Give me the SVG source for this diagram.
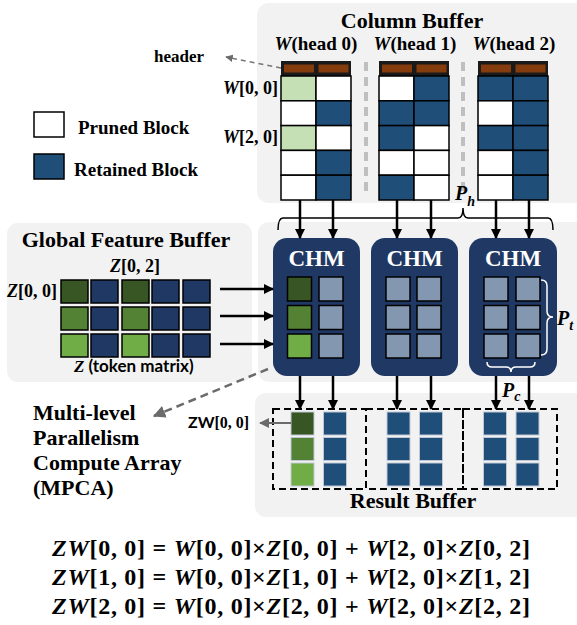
<svg xmlns="http://www.w3.org/2000/svg" width="577" height="625" viewBox="0 0 577 625">
<defs>
<style>
.panel{fill:#F2F2F2}
.t{font-family:"Liberation Serif","Times New Roman",serif;font-weight:bold;fill:#000}
.mi{font-style:italic}
.sans{font-family:Lato,"Liberation Sans",sans-serif;font-weight:bold}
.cell{stroke:#000;stroke-width:1.5}
.wc{fill:#fff}
.bc{fill:#1F4E79}
.gc{fill:#C5E0B4}
.ic{fill:#8497B0;stroke:#000;stroke-width:1.5}
.zc{stroke:#000;stroke-width:1.5}
.rc{stroke:#BFC7D5;stroke-width:1}
.g1{fill:#375623}
.g2{fill:#548235}
.g3{fill:#70AD47}
.db{fill:#203864}
.chm{fill:#203864}
.arr{stroke:#000;stroke-width:2.5;fill:none;marker-end:url(#ah)}
.dbox{fill:none;stroke:#000;stroke-width:2;stroke-dasharray:7 4}
.sep{stroke:#BFBFBF;stroke-width:4;stroke-dasharray:9 6}
</style>
<marker id="ah" viewBox="0 0 10 10" refX="9" refY="5" markerWidth="4" markerHeight="4" orient="auto" markerUnits="strokeWidth">
<path d="M0,0 L10,5 L0,10 z" fill="#000"/>
</marker>
<marker id="ahg" viewBox="0 0 10 10" refX="9" refY="5" markerWidth="5" markerHeight="5" orient="auto" markerUnits="strokeWidth">
<path d="M0,0 L10,5 L0,10 z" fill="#6b6b6b"/>
</marker>
</defs>

<!-- panels -->
<rect class="panel" x="257" y="3" width="330" height="200" rx="12"/>
<rect class="panel" x="7" y="223" width="245" height="159" rx="11"/>
<rect class="panel" x="258" y="222" width="330" height="160" rx="11"/>
<rect class="panel" x="255" y="393" width="330" height="124" rx="11"/>

<!-- legend -->
<g id="legend">
<rect x="34" y="112" width="30" height="25" fill="#fff" stroke="#000" stroke-width="1.5"/>
<text class="t" x="78" y="134" font-size="19">Pruned Block</text>
<rect x="34" y="154" width="30" height="25" fill="#1F4E79" stroke="#000" stroke-width="1.5"/>
<text class="t" x="74" y="176" font-size="19">Retained Block</text>
</g>

<!-- Column buffer -->
<g id="column-buffer">
<text class="t" x="412" y="28" font-size="22" text-anchor="middle">Column Buffer</text>
<text class="t" x="316" y="50" font-size="19" text-anchor="middle"><tspan class="mi">W</tspan>(head 0)</text>
<text class="t" x="415" y="50" font-size="19" text-anchor="middle"><tspan class="mi">W</tspan>(head 1)</text>
<text class="t" x="514" y="50" font-size="19" text-anchor="middle"><tspan class="mi">W</tspan>(head 2)</text>
<text class="t" x="154" y="62" font-size="17">header</text>
<text class="t" x="278" y="94" font-size="18" text-anchor="end"><tspan class="mi">W</tspan>[0, 0]</text>
<text class="t" x="278" y="143" font-size="18" text-anchor="end"><tspan class="mi">W</tspan>[2, 0]</text>
<line class="sep" x1="366" y1="62" x2="366" y2="196"/>
<line class="sep" x1="463" y1="62" x2="463" y2="196"/>
</g>

<g id="head0">
<rect x="281" y="61" width="70" height="15" fill="#1a1a1a"/>
<rect x="284" y="64.5" width="30" height="8" fill="#843C0C"/>
<rect x="318.5" y="64.5" width="30" height="8" fill="#843C0C"/>
<rect class="cell gc" x="281" y="76" width="35" height="24.8"/><rect class="cell wc" x="316" y="76" width="35" height="24.8"/>
<rect class="cell wc" x="281" y="100.8" width="35" height="24.8"/><rect class="cell bc" x="316" y="100.8" width="35" height="24.8"/>
<rect class="cell gc" x="281" y="125.6" width="35" height="24.8"/><rect class="cell wc" x="316" y="125.6" width="35" height="24.8"/>
<rect class="cell wc" x="281" y="150.4" width="35" height="24.8"/><rect class="cell bc" x="316" y="150.4" width="35" height="24.8"/>
<rect class="cell wc" x="281" y="175.2" width="35" height="24.8"/><rect class="cell bc" x="316" y="175.2" width="35" height="24.8"/>
</g>
<g id="head1">
<rect x="379" y="61" width="70" height="15" fill="#1a1a1a"/>
<rect x="382" y="64.5" width="30" height="8" fill="#843C0C"/>
<rect x="416.5" y="64.5" width="30" height="8" fill="#843C0C"/>
<rect class="cell wc" x="379" y="76" width="35" height="24.8"/><rect class="cell bc" x="414" y="76" width="35" height="24.8"/>
<rect class="cell bc" x="379" y="100.8" width="35" height="24.8"/><rect class="cell bc" x="414" y="100.8" width="35" height="24.8"/>
<rect class="cell bc" x="379" y="125.6" width="35" height="24.8"/><rect class="cell wc" x="414" y="125.6" width="35" height="24.8"/>
<rect class="cell wc" x="379" y="150.4" width="35" height="24.8"/><rect class="cell wc" x="414" y="150.4" width="35" height="24.8"/>
<rect class="cell bc" x="379" y="175.2" width="35" height="24.8"/><rect class="cell wc" x="414" y="175.2" width="35" height="24.8"/>
</g>
<g id="head2">
<rect x="478" y="61" width="70" height="15" fill="#1a1a1a"/>
<rect x="481" y="64.5" width="30" height="8" fill="#843C0C"/>
<rect x="515.5" y="64.5" width="30" height="8" fill="#843C0C"/>
<rect class="cell bc" x="478" y="76" width="35" height="24.8"/><rect class="cell bc" x="513" y="76" width="35" height="24.8"/>
<rect class="cell wc" x="478" y="100.8" width="35" height="24.8"/><rect class="cell bc" x="513" y="100.8" width="35" height="24.8"/>
<rect class="cell bc" x="478" y="125.6" width="35" height="24.8"/><rect class="cell bc" x="513" y="125.6" width="35" height="24.8"/>
<rect class="cell wc" x="478" y="150.4" width="35" height="24.8"/><rect class="cell bc" x="513" y="150.4" width="35" height="24.8"/>
<rect class="cell wc" x="478" y="175.2" width="35" height="24.8"/><rect class="cell bc" x="513" y="175.2" width="35" height="24.8"/>
</g>

<!-- Global feature buffer -->
<g id="global-feature-buffer">
<text class="t" x="126" y="247" font-size="22" text-anchor="middle">Global Feature Buffer</text>
<text class="t" x="135" y="272" font-size="18" text-anchor="middle"><tspan class="mi">Z</tspan>[0, 2]</text>
<text class="t" x="7" y="297" font-size="18"><tspan class="mi">Z</tspan>[0, 0]</text>
<rect class="zc g1" x="61" y="280" width="27" height="23"/><rect class="zc db" x="91" y="280" width="27" height="23"/><rect class="zc g1" x="122" y="280" width="27" height="23"/><rect class="zc db" x="152" y="280" width="27" height="23"/><rect class="zc db" x="183" y="280" width="27" height="23"/>
<rect class="zc g2" x="61" y="307" width="27" height="23"/><rect class="zc db" x="91" y="307" width="27" height="23"/><rect class="zc g2" x="122" y="307" width="27" height="23"/><rect class="zc db" x="152" y="307" width="27" height="23"/><rect class="zc db" x="183" y="307" width="27" height="23"/>
<rect class="zc g3" x="61" y="334" width="27" height="23"/><rect class="zc db" x="91" y="334" width="27" height="23"/><rect class="zc g3" x="122" y="334" width="27" height="23"/><rect class="zc db" x="152" y="334" width="27" height="23"/><rect class="zc db" x="183" y="334" width="27" height="23"/>
<text x="74" y="372" font-size="17"><tspan class="t mi">Z</tspan><tspan class="sans"> (token matrix)</tspan></text>
</g>

<!-- CHMs -->
<g id="chm0">
<rect class="chm" x="273" y="238" width="87" height="138" rx="14"/>
<text class="t" x="316.5" y="266" font-size="23" style="fill:#fff" text-anchor="middle">CHM</text>
<rect class="zc g1" x="287.5" y="277" width="24" height="24"/><rect class="ic" x="319" y="277" width="24" height="24"/>
<rect class="zc g2" x="287.5" y="305.5" width="24" height="24"/><rect class="ic" x="319" y="305.5" width="24" height="24"/>
<rect class="zc g3" x="287.5" y="334" width="24" height="24"/><rect class="ic" x="319" y="334" width="24" height="24"/>
</g>
<g id="chm1">
<rect class="chm" x="371" y="238" width="87" height="138" rx="14"/>
<text class="t" x="414.5" y="266" font-size="23" style="fill:#fff" text-anchor="middle">CHM</text>
<rect class="ic" x="386" y="277" width="24" height="24"/><rect class="ic" x="417" y="277" width="24" height="24"/>
<rect class="ic" x="386" y="305.5" width="24" height="24"/><rect class="ic" x="417" y="305.5" width="24" height="24"/>
<rect class="ic" x="386" y="334" width="24" height="24"/><rect class="ic" x="417" y="334" width="24" height="24"/>
</g>
<g id="chm2">
<rect class="chm" x="469" y="238" width="88" height="138" rx="14"/>
<text class="t" x="513" y="266" font-size="23" style="fill:#fff" text-anchor="middle">CHM</text>
<rect class="ic" x="484" y="277" width="24" height="24"/><rect class="ic" x="516" y="277" width="24" height="24"/>
<rect class="ic" x="484" y="305.5" width="24" height="24"/><rect class="ic" x="516" y="305.5" width="24" height="24"/>
<rect class="ic" x="484" y="334" width="24" height="24"/><rect class="ic" x="516" y="334" width="24" height="24"/>
<path d="M541 280 q6 0 6 6 v25 q0 6 6 6 q-6 0 -6 6 v26 q0 6 -6 6" fill="none" stroke="#fff" stroke-width="1.5"/>
<path d="M487 362 q0 5 5 5 h14 q5 0 5 5 q0 -5 5 -5 h14 q5 0 5 -5" fill="none" stroke="#fff" stroke-width="1.5"/>
</g>

<!-- Result buffer -->
<g id="result-buffer">
<rect class="dbox" x="273" y="409" width="93" height="80"/>
<rect class="dbox" x="366" y="409" width="97" height="80"/>
<rect class="dbox" x="463" y="409" width="94" height="80"/>
<rect class="rc g1" x="291" y="412" width="23" height="23"/><rect class="rc bc" x="323.5" y="412" width="23" height="23"/>
<rect class="rc g2" x="291" y="437.5" width="23" height="23"/><rect class="rc bc" x="323.5" y="437.5" width="23" height="23"/>
<rect class="rc g3" x="291" y="463" width="23" height="23"/><rect class="rc bc" x="323.5" y="463" width="23" height="23"/>
<rect class="rc bc" x="387" y="412" width="23" height="23"/><rect class="rc bc" x="419.5" y="412" width="23" height="23"/>
<rect class="rc bc" x="387" y="437.5" width="23" height="23"/><rect class="rc bc" x="419.5" y="437.5" width="23" height="23"/>
<rect class="rc bc" x="387" y="463" width="23" height="23"/><rect class="rc bc" x="419.5" y="463" width="23" height="23"/>
<rect class="rc bc" x="483.5" y="412" width="23" height="23"/><rect class="rc bc" x="516" y="412" width="23" height="23"/>
<rect class="rc bc" x="483.5" y="437.5" width="23" height="23"/><rect class="rc bc" x="516" y="437.5" width="23" height="23"/>
<rect class="rc bc" x="483.5" y="463" width="23" height="23"/><rect class="rc bc" x="516" y="463" width="23" height="23"/>
<text class="t" x="413" y="508" font-size="22" text-anchor="middle">Result Buffer</text>
</g>

<!-- MPCA label -->
<g id="mpca-label">
<text class="t" x="33" y="420" font-size="22">Multi-level</text>
<text class="t" x="33" y="445" font-size="22">Parallelism</text>
<text class="t" x="33" y="470" font-size="22">Compute Array</text>
<text class="t" x="33" y="495" font-size="22">(MPCA)</text>
</g>

<!-- connectors -->
<g id="connectors">
<path d="M278 230 q0 -12 5 -12 h175 q5 0 5 -10 q0 10 5 10 h80 q5 0 5 12" fill="none" stroke="#000" stroke-width="1.5"/>
<line class="arr" x1="300" y1="200" x2="300" y2="238"/>
<line class="arr" x1="333" y1="200" x2="333" y2="238"/>
<line class="arr" x1="397" y1="200" x2="397" y2="238"/>
<line class="arr" x1="431" y1="200" x2="431" y2="238"/>
<line class="arr" x1="496" y1="200" x2="496" y2="238"/>
<line class="arr" x1="529" y1="200" x2="529" y2="238"/>
<line class="arr" x1="220" y1="289" x2="273" y2="289"/>
<line class="arr" x1="220" y1="316" x2="273" y2="316"/>
<line class="arr" x1="220" y1="344" x2="273" y2="344"/>
<line class="arr" x1="300" y1="376" x2="300" y2="409"/>
<line class="arr" x1="333" y1="376" x2="333" y2="409"/>
<line class="arr" x1="397" y1="376" x2="397" y2="409"/>
<line class="arr" x1="431" y1="376" x2="431" y2="409"/>
<line class="arr" x1="496" y1="376" x2="496" y2="409"/>
<line class="arr" x1="529" y1="376" x2="529" y2="409"/>
<line x1="281" y1="68" x2="226" y2="57" stroke="#777" stroke-width="1.5" stroke-dasharray="5 4" marker-end="url(#ahg)"/>
<line x1="268" y1="369" x2="154" y2="416" stroke="#6b6b6b" stroke-width="2.5" stroke-dasharray="8 5" marker-end="url(#ahg)"/>
<line x1="291" y1="423" x2="260" y2="423" stroke="#6b6b6b" stroke-width="2" marker-end="url(#ahg)"/>
</g>

<!-- brace labels -->
<text class="t mi" x="455" y="200" font-size="20">P<tspan font-size="14" dy="6">h</tspan></text>
<text class="t mi" x="557" y="325" font-size="20">P<tspan font-size="14" dy="5">t</tspan></text>
<text class="t mi" x="502" y="397" font-size="20">P<tspan font-size="14" dy="4">c</tspan></text>
<text x="188" y="428" font-size="16"><tspan class="sans">ZW</tspan><tspan class="t">[0, 0]</tspan></text>

<!-- equations -->
<g id="equations" class="t" font-size="24">
<text x="52" y="556" textLength="478" lengthAdjust="spacing"><tspan class="mi">ZW</tspan>[0, 0] = <tspan class="mi">W</tspan>[0, 0]×<tspan class="mi">Z</tspan>[0, 0] + <tspan class="mi">W</tspan>[2, 0]×<tspan class="mi">Z</tspan>[0, 2]</text>
<text x="52" y="585" textLength="478" lengthAdjust="spacing"><tspan class="mi">ZW</tspan>[1, 0] = <tspan class="mi">W</tspan>[0, 0]×<tspan class="mi">Z</tspan>[1, 0] + <tspan class="mi">W</tspan>[2, 0]×<tspan class="mi">Z</tspan>[1, 2]</text>
<text x="52" y="614" textLength="478" lengthAdjust="spacing"><tspan class="mi">ZW</tspan>[2, 0] = <tspan class="mi">W</tspan>[0, 0]×<tspan class="mi">Z</tspan>[2, 0] + <tspan class="mi">W</tspan>[2, 0]×<tspan class="mi">Z</tspan>[2, 2]</text>
</g>
</svg>
